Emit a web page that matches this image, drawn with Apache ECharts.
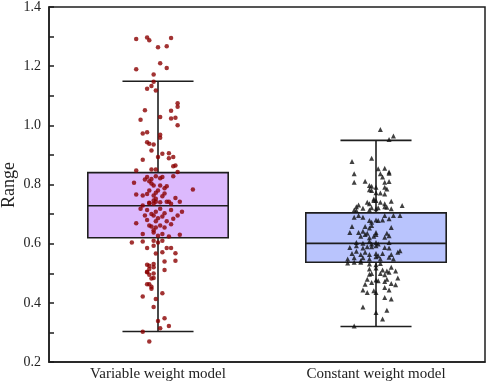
<!DOCTYPE html>
<html>
<head>
<meta charset="utf-8">
<script src="https://cdn.jsdelivr.net/npm/echarts@6/dist/echarts.min.js"></script>
<style>
html, body { margin: 0; padding: 0; background: #fff; }
#chart { width: 491px; height: 386px; }
</style>
</head>
<body>
<div id="chart"></div>
<script>
// categories and box statistics [low whisker, Q1, median, Q3, high whisker]
const categories = ['Variable weight model', 'Constant weight model'];
const yName = 'Range';
const boxStats = [
    [0.303, 0.620, 0.728, 0.840, 1.149],
    [0.320, 0.537, 0.601, 0.704, 0.949]
];
const yTicks = { min: 0.2, max: 1.4, step: 0.2 };

// scatter points: [horizontal jitter (in category units), value]
const variablePoints = [
    [-0.10,1.292],[-0.05,1.297],[-0.04,1.288],[0.06,1.295],[0.00,1.264],[0.04,1.267],[0.01,1.210],[0.04,1.194],
    [-0.10,1.190],[-0.02,1.172],[-0.02,1.147],[-0.03,1.133],[-0.05,1.124],[-0.01,1.118],[0.09,1.075],[0.09,1.063],
    [-0.06,1.051],[0.06,1.049],[0.01,1.028],[0.06,1.023],[0.08,1.026],[-0.08,1.019],[0.09,1.000],
    [-0.07,0.972],[-0.05,0.977],[0.01,0.968],[0.01,0.958],[-0.05,0.943],[-0.04,0.938],[-0.02,0.935],[-0.03,0.915],
    [0.02,0.904],[0.05,0.906],[0.00,0.893],[-0.07,0.884],[0.05,0.889],[0.07,0.893],[0.07,0.862],[0.08,0.864],
    [0.09,0.842],[-0.10,0.847],[-0.03,0.851],[-0.01,0.851],
    [-0.05,0.825],[-0.06,0.817],[-0.03,0.819],[-0.01,0.828],[0.01,0.821],[0.02,0.825],[0.07,0.828],[-0.11,0.806],
    [-0.04,0.811],[-0.02,0.797],[0.01,0.797],[0.04,0.794],[0.16,0.783],[0.03,0.787],[-0.04,0.780],[0.00,0.780],
    [-0.10,0.766],[-0.07,0.763],[-0.05,0.768],[-0.02,0.763],[-0.01,0.772],[0.02,0.760],[0.08,0.754],[0.10,0.742],
    [-0.02,0.746],[0.05,0.742],[-0.04,0.738],[-0.01,0.742],[-0.07,0.729],[-0.04,0.737],[-0.02,0.735],[0.01,0.740],
    [0.04,0.742],[0.06,0.735],[-0.01,0.752],[0.03,0.770],[-0.03,0.803],
    [-0.08,0.718],[-0.05,0.714],[-0.01,0.708],[0.01,0.718],[0.06,0.714],[0.11,0.708],[-0.06,0.695],[-0.02,0.695],
    [0.02,0.692],[0.09,0.695],[-0.10,0.669],[-0.05,0.680],[-0.01,0.676],[0.04,0.676],[0.07,0.684],[-0.04,0.661],
    [-0.03,0.658],[-0.01,0.655],[0.01,0.661],[0.03,0.655],[0.06,0.666],[-0.07,0.633],[-0.02,0.638],[0.00,0.627],
    [0.02,0.633],[0.05,0.624],[0.10,0.630],[-0.03,0.700],[0.00,0.686],[-0.02,0.645],[0.03,0.703],
    [-0.12,0.604],[-0.07,0.607],[-0.02,0.610],[0.00,0.604],[0.02,0.610],[-0.05,0.585],[-0.02,0.593],[0.04,0.585],
    [0.06,0.585],[-0.01,0.567],[0.02,0.571],[0.08,0.568],[0.03,0.540],[0.08,0.542],[-0.04,0.525],[-0.02,0.531],
    [-0.02,0.520],[-0.05,0.505],[-0.04,0.514],[0.03,0.511],[-0.02,0.484],[-0.05,0.529],[-0.05,0.503],[-0.04,0.495],
    [-0.02,0.499],[-0.05,0.463],[-0.04,0.463],[-0.03,0.482],[-0.03,0.448],[-0.03,0.454],[0.02,0.432],[-0.07,0.421],
    [-0.01,0.413],[-0.02,0.386],[0.00,0.339],[0.03,0.348],[0.05,0.322],[0.01,0.314],[-0.07,0.302],[-0.04,0.269]
];
const constantPoints = [
    [0.02,0.986],[0.08,0.964],[0.06,0.952],[-0.11,0.878],[-0.02,0.889],[-0.10,0.836],[0.01,0.853],[0.04,0.855],
    [0.06,0.842],[0.02,0.836],[0.06,0.838],[-0.10,0.808],[-0.05,0.811],[0.03,0.825],[0.04,0.808],[0.06,0.810],
    [-0.03,0.797],[-0.02,0.794],[0.00,0.791],[-0.03,0.782],[-0.02,0.780],[0.04,0.791],[0.05,0.785],[0.00,0.772],
    [0.02,0.771],[0.04,0.768],[-0.01,0.751],[-0.01,0.746],[0.00,0.746],[-0.04,0.740],[-0.03,0.735],[0.02,0.740],
    [0.04,0.735],[0.07,0.743],[-0.09,0.725],[-0.08,0.731],[-0.06,0.720],[-0.03,0.714],[-0.02,0.721],[0.00,0.718],
    [0.01,0.721],[0.04,0.725],[0.05,0.723],[0.07,0.718],[0.12,0.729],[-0.10,0.714],[-0.09,0.712],
    [-0.10,0.689],[-0.08,0.695],[-0.06,0.689],[0.04,0.695],[0.08,0.695],[0.11,0.695],[-0.03,0.678],[-0.02,0.672],
    [0.00,0.680],[0.01,0.678],[0.03,0.680],[0.06,0.684],[-0.11,0.658],[-0.05,0.658],[-0.03,0.653],[-0.02,0.661],
    [0.07,0.655],[-0.12,0.638],[-0.08,0.638],[-0.06,0.642],[-0.04,0.635],[0.00,0.638],[0.05,0.635],[0.06,0.627],
    [-0.07,0.625],[-0.05,0.631],[-0.03,0.620],[-0.01,0.625],[0.00,0.631],[0.04,0.622],[-0.09,0.604],[-0.06,0.601],
    [-0.03,0.608],[-0.02,0.599],[0.00,0.604],[0.01,0.599],[0.06,0.604],[-0.12,0.587],[-0.09,0.593],[-0.06,0.585],
    [-0.04,0.590],[-0.02,0.590],[0.00,0.593],[0.04,0.587],[0.06,0.585],[-0.11,0.567],[-0.09,0.574],[-0.07,0.563],
    [-0.05,0.571],[-0.03,0.563],[0.00,0.567],[0.01,0.559],[0.03,0.567],[0.07,0.563],[0.10,0.571],[0.11,0.576],
    [-0.13,0.548],[-0.10,0.552],[-0.07,0.542],[-0.06,0.552],[-0.03,0.548],[0.00,0.556],[0.02,0.548],[0.06,0.554],
    [0.08,0.548],[-0.13,0.535],[-0.10,0.537],[-0.07,0.537],[-0.03,0.531],[0.00,0.529],[0.02,0.533],
    [-0.03,0.514],[0.00,0.518],[0.03,0.511],[0.05,0.508],[0.07,0.520],[-0.03,0.497],[-0.02,0.499],[0.02,0.499],
    [0.04,0.495],[0.06,0.503],[0.09,0.508],[-0.04,0.480],[0.00,0.477],[0.01,0.475],[0.04,0.472],[0.05,0.480],
    [0.10,0.484],[-0.05,0.463],[-0.02,0.469],[0.07,0.465],[0.09,0.461],[-0.06,0.443],[-0.04,0.435],[-0.01,0.441],
    [0.00,0.435],[0.04,0.452],[0.06,0.443],[0.04,0.418],[0.07,0.413],[-0.06,0.386],[0.05,0.375],[0.00,0.367],
    [0.03,0.345],[-0.10,0.322]
];

const boxFills = ['#dcb9fd', '#b9c4fd'];
const lineColor = '#1e1e1e';
const serif = '"Liberation Serif", "Times New Roman", serif';

const chart = echarts.init(document.getElementById('chart'));

function renderBox(params, api) {
    const idx = api.value(0);
    const low = api.coord([idx, api.value(1)]);
    const q1 = api.coord([idx, api.value(2)]);
    const med = api.coord([idx, api.value(3)]);
    const q3 = api.coord([idx, api.value(4)]);
    const high = api.coord([idx, api.value(5)]);
    const band = api.size([1, 0])[0];
    const hw = band * 0.322;
    const cw = band * 0.163;
    const x = low[0];
    const st = { stroke: lineColor, lineWidth: 1.6 };
    return {
        type: 'group',
        children: [
            { type: 'line', shape: { x1: x, y1: q1[1], x2: x, y2: low[1] }, style: st },
            { type: 'line', shape: { x1: x, y1: q3[1], x2: x, y2: high[1] }, style: st },
            { type: 'line', shape: { x1: x - cw, y1: low[1], x2: x + cw, y2: low[1] }, style: st },
            { type: 'line', shape: { x1: x - cw, y1: high[1], x2: x + cw, y2: high[1] }, style: st },
            { type: 'rect', shape: { x: x - hw, y: q3[1], width: hw * 2, height: q1[1] - q3[1] },
              style: { fill: boxFills[idx], stroke: lineColor, lineWidth: 1.6 } },
            { type: 'line', shape: { x1: x - hw, y1: med[1], x2: x + hw, y2: med[1] }, style: st }
        ]
    };
}

const option = {
    animation: false,
    grid: {
        left: 49, right: 6, top: 7, bottom: 24,
        outerBoundsMode: 'none',
        containLabel: false,
        show: true, borderColor: lineColor, borderWidth: 1.5
    },
    // y axis title
    graphic: [{
        type: 'text',
        x: 9, y: 185,
        rotation: Math.PI / 2,
        style: {
            text: yName, fill: '#222',
            font: '18px ' + serif,
            textAlign: 'center', textVerticalAlign: 'middle'
        }
    }],
    xAxis: [{
        type: 'category',
        data: categories,
        axisLine: { lineStyle: { color: lineColor, width: 1.5 } },
        axisTick: { inside: true, alignWithLabel: true, length: 5, lineStyle: { color: lineColor, width: 1.5 } },
        axisLabel: { color: '#222', fontFamily: serif, fontSize: 15, margin: 5 },
        splitLine: { show: false }
    }, {
        type: 'value', min: 0, max: 2, show: false
    }],
    yAxis: {
        type: 'value',
        min: yTicks.min, max: yTicks.max, interval: yTicks.step,
        axisLine: { show: true, lineStyle: { color: lineColor, width: 1.5 } },
        axisTick: { show: true, inside: true, length: 5, lineStyle: { color: lineColor, width: 1.5 } },
        minorTick: { show: true, splitNumber: 2, length: 5, lineStyle: { color: lineColor, width: 1.5 } },
        axisLabel: { color: '#222', fontFamily: serif, fontSize: 14, margin: 8,
            formatter: v => v.toFixed(1) },
        splitLine: { show: false }
    },
    series: [{
        type: 'custom',
        renderItem: renderBox,
        data: boxStats.map((s, i) => [i].concat(s)),
        encode: { x: 0, y: [1, 2, 3, 4, 5] },
        z: 2
    }, {
        type: 'scatter',
        xAxisIndex: 1,
        symbol: 'circle',
        symbolSize: 4.5,
        itemStyle: { color: '#8b0000' },
        data: variablePoints.map(p => [0.5 + p[0], p[1]]),
        z: 3
    }, {
        type: 'scatter',
        xAxisIndex: 1,
        symbol: 'triangle',
        symbolSize: 5,
        itemStyle: { color: '#111' },
        data: constantPoints.map(p => [1.5 + p[0], p[1]]),
        z: 3
    }]
};

chart.setOption(option);
</script>
</body>
</html>
